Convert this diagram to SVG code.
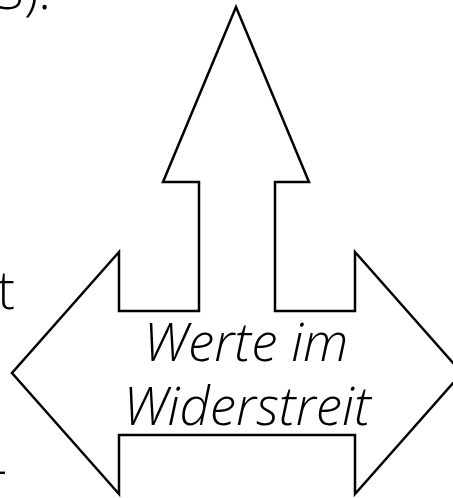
<svg xmlns="http://www.w3.org/2000/svg" width="453" height="498" viewBox="0 0 453 498">
  <style>
    .shape { fill: #ffffff; stroke: #000000; stroke-width: 2.5; stroke-linejoin: miter; }
    .label { font-family: "Open Sans", "Liberation Sans", sans-serif; font-weight: 300; font-size: 53px; fill: #000000; }
    .it { font-style: italic; }
  </style>
  <rect width="453" height="498" fill="#ffffff"/>
  <g id="page-text">
    <text class="label" x="51" y="9" text-anchor="end">S):</text>
    <text class="label" x="15" y="309" text-anchor="end">t</text>
    <text class="label" x="7" y="487" text-anchor="end">-</text>
  </g>
  <g id="three-way-arrow">
    <path class="shape" d="M236,7 L309,182 L275,182 L275,311 L355,311 L355,252 L462,373 L355,494 L355,435 L119,435 L119,494 L12,373 L119,252 L119,311 L199,311 L199,182 L163,182 Z"/>
  </g>
  <g id="label">
    <text class="label it" x="246" y="361" text-anchor="middle">Werte im</text>
    <text class="label it" x="247" y="425" text-anchor="middle">Widerstreit</text>
  </g>
</svg>
